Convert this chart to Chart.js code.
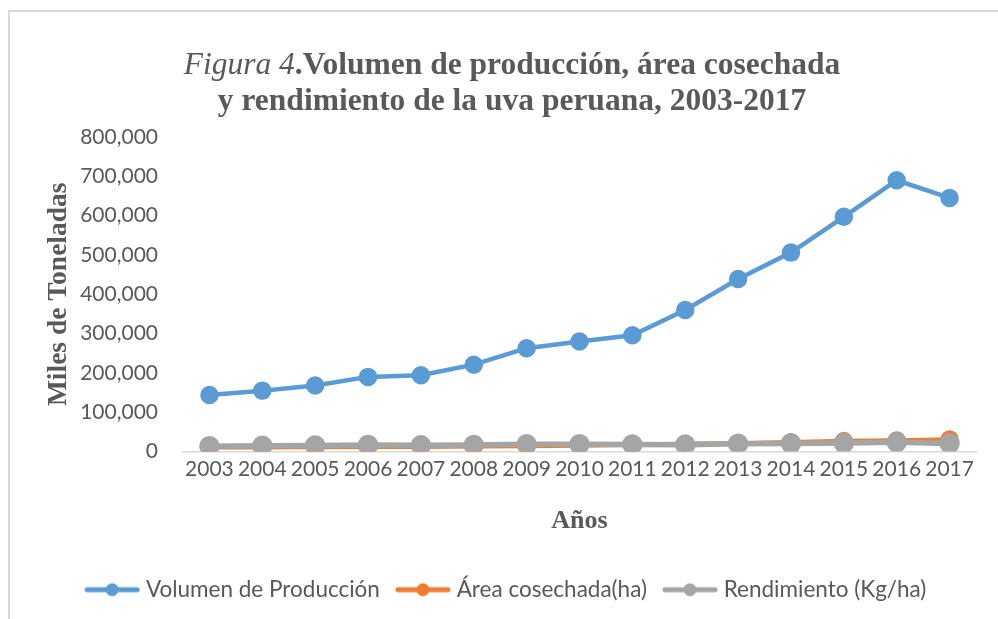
<!DOCTYPE html>
<html>
<head>
<meta charset="utf-8">
<script src="https://cdn.jsdelivr.net/npm/chart.js@4.4.0/dist/chart.umd.min.js"></script>
<style>
  html, body { margin: 0; padding: 0; background: #fff; }
  #wrap { position: relative; width: 998px; height: 619px; overflow: hidden; }
  #frame { position: absolute; left: 8px; top: 10px; width: 1100px; height: 700px;
           border-top: 2px solid #d9d9d9; border-left: 2px solid #d9d9d9; }
  #titulo { position: absolute; left: 0; top: 46px; width: 1024px; text-align: center;
            font-family: 'Liberation Serif', 'Times New Roman', serif; font-size: 31.5px;
            line-height: 36px; color: #595959; font-weight: bold; }
  #titulo i { font-weight: normal; }
  canvas { position: absolute; left: 0; top: 0; }
</style>
</head>
<body>
<div id="wrap">
  <div id="frame"></div>
  <canvas id="myChart" width="998" height="619"></canvas>
  <div id="titulo"><i>Figura 4</i>.Volumen de producción, área cosechada<br>y rendimiento de la uva peruana, 2003-2017</div>
</div>
<script>
let anios = ['2003','2004','2005','2006','2007','2008','2009','2010','2011','2012','2013','2014','2015','2016','2017'];
let produccion = [144000, 155000, 168000, 190000, 194000, 221000, 263000, 280000, 296000, 360000, 439000, 506000, 597000, 690000, 645000];
let area = [10600, 10500, 10800, 11500, 11900, 13000, 13800, 14700, 16500, 20500, 22000, 24500, 27500, 29000, 31500];
let rendimiento = [13700, 14700, 15500, 16500, 16300, 17000, 19000, 19000, 17900, 17500, 20000, 20600, 21700, 23800, 20500];
let etiquetas = ['Volumen de Producción', 'Área cosechada(ha)', 'Rendimiento (Kg/ha)'];
let colores = ['#5B9BD5', '#ED7D31', '#A5A5A5'];

const fuente = "Lato, 'Open Sans', sans-serif";
const serif = "'Liberation Serif', 'Times New Roman', serif";
const gris = '#595959';

// simbolo de leyenda: linea con circulo al centro
function simbolo(color){
    let c = document.createElement('canvas');
    c.width = 56; c.height = 16;
    let g = c.getContext('2d');
    g.strokeStyle = color; g.lineWidth = 5; g.lineCap = 'round';
    g.beginPath(); g.moveTo(3, 8); g.lineTo(53, 8); g.stroke();
    g.fillStyle = color;
    g.beginPath(); g.arc(28, 8, 6.5, 0, Math.PI*2); g.fill();
    return c;
}
let simbolos = colores.map(simbolo);

let ctx = document.getElementById('myChart').getContext('2d');
let myChart = new Chart(ctx, {
    type: 'line',
    data: {
        labels: anios,
        datasets: [{
            label: etiquetas[0],
            data: produccion,
            borderColor: colores[0],
            backgroundColor: colores[0],
            borderWidth: 4.5,
            pointRadius: 7,
            pointHoverRadius: 7,
            order: 3,
        },{
            label: etiquetas[1],
            data: area,
            borderColor: colores[1],
            backgroundColor: colores[1],
            borderWidth: 4,
            pointRadius: 7,
            pointHoverRadius: 7,
            order: 2,
        },{
            label: etiquetas[2],
            data: rendimiento,
            borderColor: colores[2],
            backgroundColor: colores[2],
            borderWidth: 5.5,
            pointRadius: 7.5,
            pointHoverRadius: 7.5,
            order: 1,
        }]
    },
    options: {
        responsive: false,
        animation: false,
        layout: {
            padding: { top: 137, right: 22, left: 40, bottom: 8 }
        },
        scales: {
            x: {
                offset: true,
                grid: { display: false, drawTicks: false },
                border: { display: true, color: '#d9d9d9', width: 1.5 },
                ticks: { color: gris, font: { family: fuente, size: 21 }, padding: 5, maxRotation: 0, autoSkip: false },
                title: {
                    display: true,
                    text: 'Años',
                    color: gris,
                    font: { family: serif, size: 26, weight: 'bold' },
                    padding: { top: 19, bottom: 21 }
                }
            },
            y: {
                min: 0,
                max: 800000,
                grid: { display: false, drawTicks: false },
                border: { display: false },
                ticks: {
                    stepSize: 100000,
                    color: gris,
                    font: { family: fuente, size: 21 },
                    padding: 25,
                    callback: function(v){ return v.toLocaleString('en-US'); }
                },
                title: {
                    display: true,
                    text: 'Miles de Toneladas',
                    color: gris,
                    font: { family: serif, size: 27.5, weight: 'bold' },
                    padding: { top: 2.5, bottom: 0 }
                },
                afterFit: function(scale){ scale.width = 143; }
            }
        },
        plugins: {
            title: { display: false },
            tooltip: { enabled: false },
            legend: {
                position: 'bottom',
                labels: {
                    color: gris,
                    font: { family: fuente, size: 22.5 },
                    usePointStyle: true,
                    pointStyleWidth: 45,
                    padding: 20.5,
                    sort: function(a, b){ return a.datasetIndex - b.datasetIndex; },
                    generateLabels: function(chart){
                        let items = Chart.defaults.plugins.legend.labels.generateLabels(chart);
                        items.forEach(function(it){ it.pointStyle = simbolos[it.datasetIndex]; });
                        return items;
                    }
                }
            }
        }
    }
});
</script>
</body>
</html>
